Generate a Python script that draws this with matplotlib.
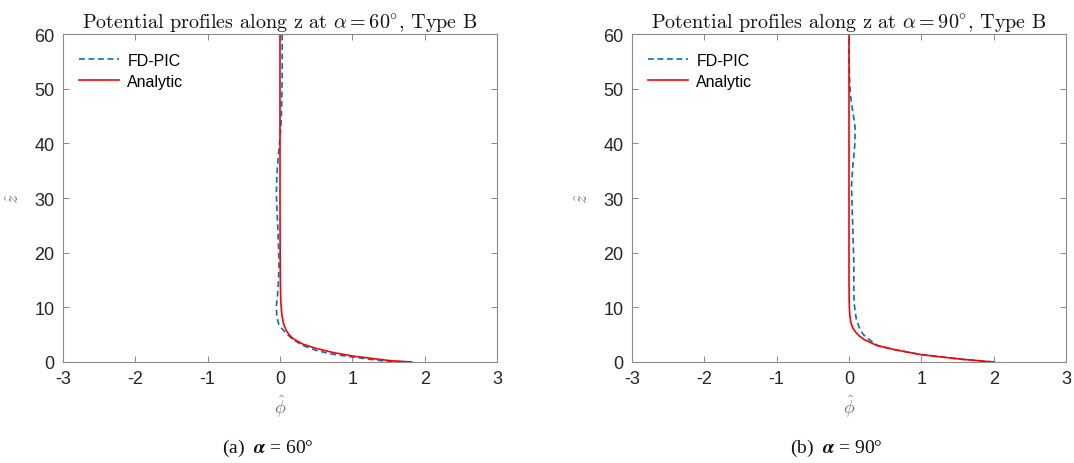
import matplotlib
matplotlib.use("Agg")
import matplotlib.pyplot as plt

# ---------------- data ----------------
# Left panel (alpha = 60 deg)
z_an_60 = [0, 0.25, 0.62, 1.1, 1.72, 2.45, 3.24, 4.28, 5.0, 5.7, 6.4, 7.2, 8.5, 9.7, 11.5, 15, 20, 30, 40, 50, 60]
phi_an_60 = [1.82, 1.52, 1.29, 1.0, 0.74, 0.51, 0.32, 0.18, 0.125, 0.09, 0.065, 0.045, 0.028, 0.018, 0.01,
             0.005, 0.002, 0.0, 0.0, 0.0, 0.0]

z_pic_60 = [0, 0.12, 0.92, 1.4, 2.07, 3.0, 4.1, 5.45, 6.2, 7.0, 8.5, 10.3, 12, 15, 18.3, 21, 24.4, 27.5, 30.5,
            33.5, 36.7, 39, 40.9, 42.5, 44.6, 48, 51.9, 55, 58, 60]
phi_pic_60 = [1.82, 1.47, 1.0, 0.74, 0.51, 0.32, 0.18, 0.07, 0.02, -0.02, -0.045, -0.05, -0.035, -0.02, -0.014,
              -0.02, -0.03, -0.04, -0.05, -0.045, -0.03, -0.015, 0.0, 0.01, 0.018, 0.025, 0.03, 0.03, 0.03, 0.03]

# Right panel (alpha = 90 deg)
z_an_90 = [0, 0.5, 1.34, 2.26, 3.0, 4.1, 4.8, 5.45, 6.3, 7.3, 8.5, 9.7, 11.5, 15, 20, 30, 40, 50, 60]
phi_an_90 = [2.0, 1.56, 1.0, 0.63, 0.39, 0.21, 0.14, 0.093, 0.05, 0.024, 0.012, 0.006, 0.002, 0.0, 0.0,
             0.0, 0.0, 0.0, 0.0]

z_pic_90 = [0, 0.5, 1.34, 2.26, 3.0, 3.6, 4.3, 5.0, 6.0, 7.9, 10.3, 12.2, 15, 18.3, 21, 24.4, 28.1, 32.3,
            35.4, 37.5, 39.7, 42.8, 44.6, 46.8, 48.9, 52, 55.9, 60]
phi_pic_90 = [2.0, 1.56, 1.0, 0.63, 0.40, 0.33, 0.26, 0.2, 0.15, 0.10, 0.075, 0.067, 0.067, 0.067, 0.06, 0.053,
              0.043, 0.035, 0.05, 0.065, 0.08, 0.085, 0.067, 0.04, 0.02, 0.008, 0.0, 0.0]

x_ticks = [-3, -2, -1, 0, 1, 2, 3]
y_ticks = [0, 10, 20, 30, 40, 50, 60]
titles = [r"Potential profiles along z at $\alpha = 60^{\circ}$, Type B",
          r"Potential profiles along z at $\alpha = 90^{\circ}$, Type B"]
captions = [r"(a)  $\boldsymbol{\alpha}$ = 60°", r"(b)  $\boldsymbol{\alpha}$ = 90°"]
series_labels = ["FD-PIC", "Analytic"]

# ---------------- figure ----------------
W, H = 1074, 464
fig = plt.figure(figsize=(W / 100, H / 100), dpi=100)

blue = "#0072BD"
red = "#FF0000"
spine_col = "#8a8a8a"
tick_col = "#262626"

panels = [
    (63, z_pic_60, phi_pic_60, z_an_60, phi_an_60),
    (632, z_pic_90, phi_pic_90, z_an_90, phi_an_90),
]
caption_x = [268, 836]

for i, (xl, zp, pp, za, pa) in enumerate(panels):
    ax = fig.add_axes([xl / W, (H - 363) / H, 434 / W, 328 / H])
    ax.plot(pp, zp, linestyle=(0, (3.5, 2.2)), color=blue, lw=1.2, label=series_labels[0])
    ax.plot(pa, za, color=red, lw=1.2, label=series_labels[1])
    ax.set_xlim(-3, 3)
    ax.set_ylim(0, 60)
    ax.set_xticks(x_ticks)
    ax.set_xticklabels([str(t) for t in x_ticks])
    ax.set_yticks(y_ticks)
    ax.set_yticklabels([str(t) for t in y_ticks])
    ax.tick_params(direction="in", length=4, width=0.7, color=spine_col,
                   top=True, right=True, labelsize=13, labelcolor=tick_col, pad=6)
    for lab in ax.get_xticklabels() + ax.get_yticklabels():
        lab.set_fontfamily("Liberation Sans")
    for s in ax.spines.values():
        s.set_color(spine_col)
        s.set_linewidth(0.8)
    ax.set_title(titles[i], fontsize=14.5, fontfamily="cmr10", math_fontfamily="cm", pad=5,
                 color="#111111")
    ax.legend(loc="upper left", bbox_to_anchor=(0.012, 0.976), frameon=False,
              handlelength=2.5, handletextpad=0.5, labelspacing=0.35, borderaxespad=0.3,
              prop={"family": "Liberation Sans", "size": 11.5})
    ax.set_xlabel(r"$\hat{\phi}$", fontsize=13, color="#707070", math_fontfamily="cm", labelpad=4)
    ax.set_ylabel(r"$\hat{z}$", fontsize=13, color="#707070", math_fontfamily="cm", labelpad=8)
    fig.text(caption_x[i] / W, 1 - 448 / H, captions[i], ha="center", va="center",
             fontsize=14, fontfamily="Liberation Serif", math_fontfamily="stix", color="#111111")

fig.savefig("out.png", dpi=100, facecolor="white")
